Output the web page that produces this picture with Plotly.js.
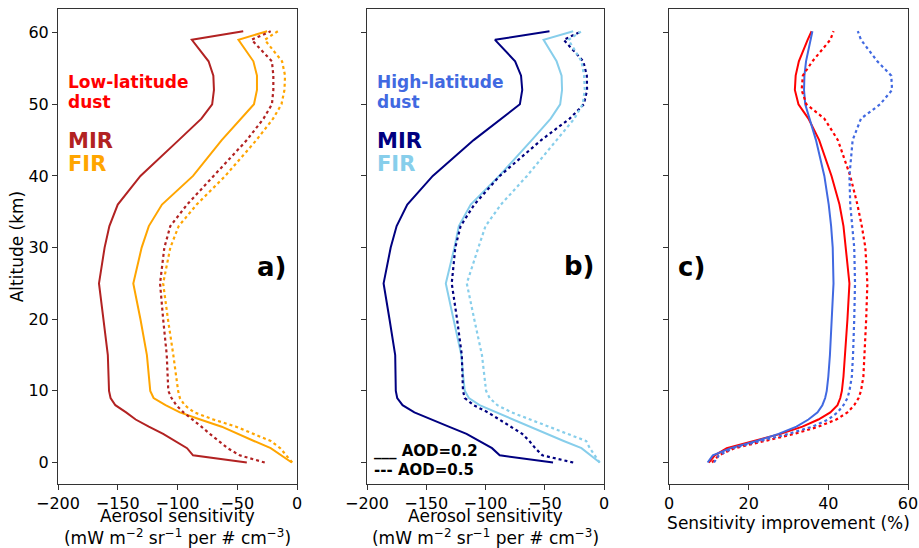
<!DOCTYPE html>
<html>
<head>
<meta charset="utf-8">
<script src="https://cdn.plot.ly/plotly-3.0.1.min.js"></script>
<style>html,body{margin:0;padding:0;background:#fff}</style>
</head>
<body>
<div id="chart" style="width:919px;height:548px"></div>
<script>
// Altitude levels (km)
const altitude = [0, 1, 2, 3, 4, 5, 6, 7, 8, 9, 10, 12, 15, 20, 25, 30, 33, 36, 40, 45, 48, 50, 52, 54, 56, 59, 60.2];

// Panel a) Low-latitude dust, aerosol sensitivity
const lowMIR_aod02 = [-42, -87, -92, -102, -112, -124, -135, -143, -152, -156, -157.3, -157.7, -158.3, -162, -165.7, -161, -157, -150, -131, -99, -80, -71, -69.5, -70, -74, -88, -45];
const lowMIR_aod05 = [-27, -48, -58, -66, -73, -80, -88, -95, -101, -105, -107.7, -108.2, -109, -112, -114.6, -111, -106, -92, -70, -42, -28, -21, -19.8, -19.8, -21, -38, -22];
const lowFIR_aod02 = [-4.4, -13, -22, -36, -49, -63, -81, -98, -110, -120, -122.8, -124, -125.6, -131, -137, -130, -124, -113, -87, -63, -47, -36, -33.5, -33.5, -36.5, -49, -25];
const lowFIR_aod05 = [-4, -9, -14, -22, -36, -51, -70, -86, -94, -98, -99.5, -101, -103.5, -108, -112, -106, -99, -84, -60, -34, -20, -13, -10.5, -10, -12.5, -27, -16];

// Panel b) High-latitude dust, aerosol sensitivity
const highMIR_aod02 = [-43, -88, -94.5, -105, -116, -131, -145, -160, -170, -174.5, -175.7, -175.9, -176.2, -181, -186, -180, -175, -166, -144.5, -110, -87, -71, -69, -70, -75, -92, -46];
const highMIR_aod05 = [-26, -52, -58, -63, -69, -79, -89, -98, -110, -117.5, -119, -119.5, -120, -124, -128.5, -125.5, -121, -109.5, -88, -53, -29, -17, -14.3, -14.5, -17.5, -34, -19];
const highFIR_aod02 = [-3.6, -11, -19, -34, -48, -62, -77, -91, -105, -114, -117.5, -118.8, -120.4, -127, -133.5, -126.2, -122.5, -112.5, -88.5, -61, -45, -37, -35.4, -35.8, -40, -51, -26];
const highFIR_aod05 = [-3.6, -8, -12, -15, -31, -46, -62, -78, -90, -96.5, -99.5, -101, -103, -109.5, -115.8, -106, -100, -87, -65, -40, -25, -18, -16.2, -16.8, -19, -30, -19];

// Panel c) Sensitivity improvement (%)
const improveLow_aod02 = [10, 11.5, 14.5, 21, 28, 33.5, 37.5, 40.5, 42.3, 43, 43.4, 43.8, 44.2, 44.8, 45.3, 44.4, 43.8, 42.8, 40.8, 37.7, 35, 32.5, 31.6, 31.8, 32.6, 34.8, 35.8];
const improveHigh_aod02 = [9.7, 11, 15.5, 22, 27.5, 32, 35, 37.3, 38.5, 39.2, 39.6, 40, 40.4, 40.9, 41.3, 41.1, 40.7, 40.1, 39, 36.9, 35.3, 34.2, 33.9, 34, 34.4, 35.5, 36];
const improveLow_aod05 = [10.8, 12.5, 16.5, 24, 31.5, 37.5, 42, 44.8, 46.5, 47.6, 48.2, 48.8, 49.1, 49.5, 49.8, 49.3, 48.4, 47.3, 45.5, 42.4, 39, 34.5, 33.3, 33.6, 36, 40.5, 41.3];
const improveHigh_aod05 = [11.3, 12.5, 16, 23, 30, 36, 40, 42.3, 43.8, 44.8, 45.3, 45.9, 46.2, 46.5, 46.7, 46.5, 46, 45.5, 45.3, 46.1, 48.2, 53, 56, 55.8, 52.3, 48.2, 47.4];

const sensTicks = [-200, -150, -100, -50, 0];
const improveTicks = [0, 20, 40, 60];
const altTicks = [0, 10, 20, 30, 40, 50, 60];

const C = {
  mir: '#B22222', fir: '#FFA500', low: '#FF0000',
  hmir: '#000080', hfir: '#87CEEB', high: '#4169E1'
};

function tr(x, xa, color, dotted) {
  return {
    x: x, y: altitude, xaxis: xa, yaxis: xa === 'x' ? 'y' : xa.replace('x', 'y'),
    type: 'scatter', mode: 'lines', showlegend: false, hoverinfo: 'skip',
    line: {color: color, width: dotted ? 2.2 : 2, dash: dotted ? 'dot' : 'solid'}
  };
}

const data = [
  tr(lowMIR_aod02, 'x', C.mir, false),
  tr(lowFIR_aod02, 'x', C.fir, false),
  tr(lowMIR_aod05, 'x', C.mir, true),
  tr(lowFIR_aod05, 'x', C.fir, true),
  tr(highMIR_aod02, 'x2', C.hmir, false),
  tr(highFIR_aod02, 'x2', C.hfir, false),
  tr(highMIR_aod05, 'x2', C.hmir, true),
  tr(highFIR_aod05, 'x2', C.hfir, true),
  tr(improveLow_aod02, 'x3', C.low, false),
  tr(improveHigh_aod02, 'x3', C.high, false),
  tr(improveLow_aod05, 'x3', C.low, true),
  tr(improveHigh_aod05, 'x3', C.high, true)
];

const FONT = 'DejaVu Sans, Liberation Sans, sans-serif';
const L = 58, R = 11, T = 9, B = 64, W = 919, H = 548;
const pw = W - L - R, ph = H - T - B;
const px = v => (v - L) / pw;
const py = v => (H - B - v) / ph;

const axBase = {
  showline: true, mirror: true, linecolor: '#333', linewidth: 1,
  ticks: 'outside', ticklen: 5, tickwidth: 1, tickcolor: '#333',
  showgrid: false, zeroline: false,
  tickfont: {family: FONT, size: 16, color: '#000'}
};
const xTitle = {
  text: 'Aerosol sensitivity<br>(mW m<sup>−2</sup> sr<sup>−1</sup> per # cm<sup>−3</sup>)',
  font: {family: FONT, size: 17, color: '#000'}, standoff: 4
};
const yBase = Object.assign({}, axBase, {range: [-3, 63.3], tickvals: altTicks});

const layout = {
  width: W, height: H,
  margin: {l: L, r: R, t: T, b: B},
  paper_bgcolor: '#fff', plot_bgcolor: '#fff',
  showlegend: false,
  xaxis: Object.assign({}, axBase, {domain: [0, px(297)], range: [-200, 0], tickvals: sensTicks, anchor: 'y', title: xTitle}),
  xaxis2: Object.assign({}, axBase, {domain: [px(367), px(604)], range: [-200, 0], tickvals: sensTicks, anchor: 'y2', title: xTitle}),
  xaxis3: Object.assign({}, axBase, {domain: [px(669), 1], range: [0, 60], tickvals: improveTicks, anchor: 'y3',
    title: {text: 'Sensitivity improvement (%)', font: {family: FONT, size: 17, color: '#000'}, standoff: 0}}),
  yaxis: Object.assign({}, yBase, {anchor: 'x', title: {text: 'Altitude (km)', font: {family: FONT, size: 17, color: '#000'}, standoff: 0}}),
  yaxis2: Object.assign({}, yBase, {anchor: 'x2', matches: 'y', showticklabels: false}),
  yaxis3: Object.assign({}, yBase, {anchor: 'x3', matches: 'y', showticklabels: false}),
  annotations: []
};

function ann(text, x, y, color, size, anchor) {
  layout.annotations.push({
    text: '<b>' + text + '</b>', xref: 'paper', yref: 'paper', x: px(x), y: py(y),
    xanchor: anchor || 'left', yanchor: 'middle', showarrow: false,
    font: {family: FONT, size: size, color: color}
  });
}
ann('Low-latitude', 66, 82, C.low, 17);
ann('dust', 66, 102, C.low, 17);
ann('MIR', 66, 141, C.mir, 21);
ann('FIR', 66, 164, C.fir, 21);
ann('High-latitude', 375, 82, C.high, 17);
ann('dust', 375, 102, C.high, 17);
ann('MIR', 375, 141, C.hmir, 21);
ann('FIR', 375, 164, C.hfir, 21);
ann('a)', 271, 267, '#000', 26, 'center');
ann('b)', 579, 266, '#000', 26, 'center');
ann('c)', 691, 267, '#000', 26, 'center');
ann('___ AOD=0.2', 372, 451, '#000', 15);
ann('--- AOD=0.5', 372, 470, '#000', 15);

Plotly.newPlot('chart', data, layout, {staticPlot: true, displayModeBar: false});
</script>
</body>
</html>
